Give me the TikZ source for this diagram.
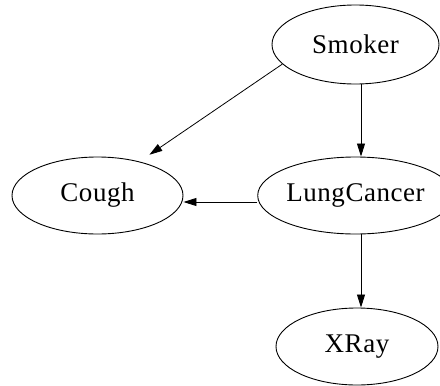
\documentclass[tikz,border=0pt]{standalone}
\usepackage{fontspec}
\setmainfont{Liberation Serif}
\usetikzlibrary{shapes.geometric,arrows.meta}
\begin{document}
\begin{tikzpicture}[x=1pt,y=1pt,
  var/.style={ellipse,draw,line width=0.9pt,inner sep=0pt,
    font=\fontsize{27}{30}\selectfont\addfontfeature{LetterSpace=2}},
  edge/.style={draw,line width=0.8pt,-{Triangle[length=13pt,width=8pt]}}]
\useasboundingbox (0,0) rectangle (440,-386);
\node[var,minimum width=167pt,minimum height=79pt] (smoker) at (355.5,-44.5) {Smoker};
\node[var,minimum width=167pt,minimum height=77pt] (lung) at (355.5,-195.5) {LungCancer};
\node[var,minimum width=171pt,minimum height=77pt] (cough) at (97.5,-195.5) {Cough};
\node[var,minimum width=162pt,minimum height=77pt] (xray) at (357,-346.5) {XRay};
\draw[edge] ([xshift=5.5pt]smoker.south) -- ([xshift=5.5pt]lung.north);
\draw[edge] ([xshift=5.5pt]lung.south) -- ([xshift=4pt]xray.north);
\draw[edge] ([yshift=-6.5pt]lung.west) -- ([yshift=-6.5pt]cough.east);
\draw[edge,shorten >=12pt] (smoker.195.6) -- (cough.39.8);
\end{tikzpicture}
\end{document}
